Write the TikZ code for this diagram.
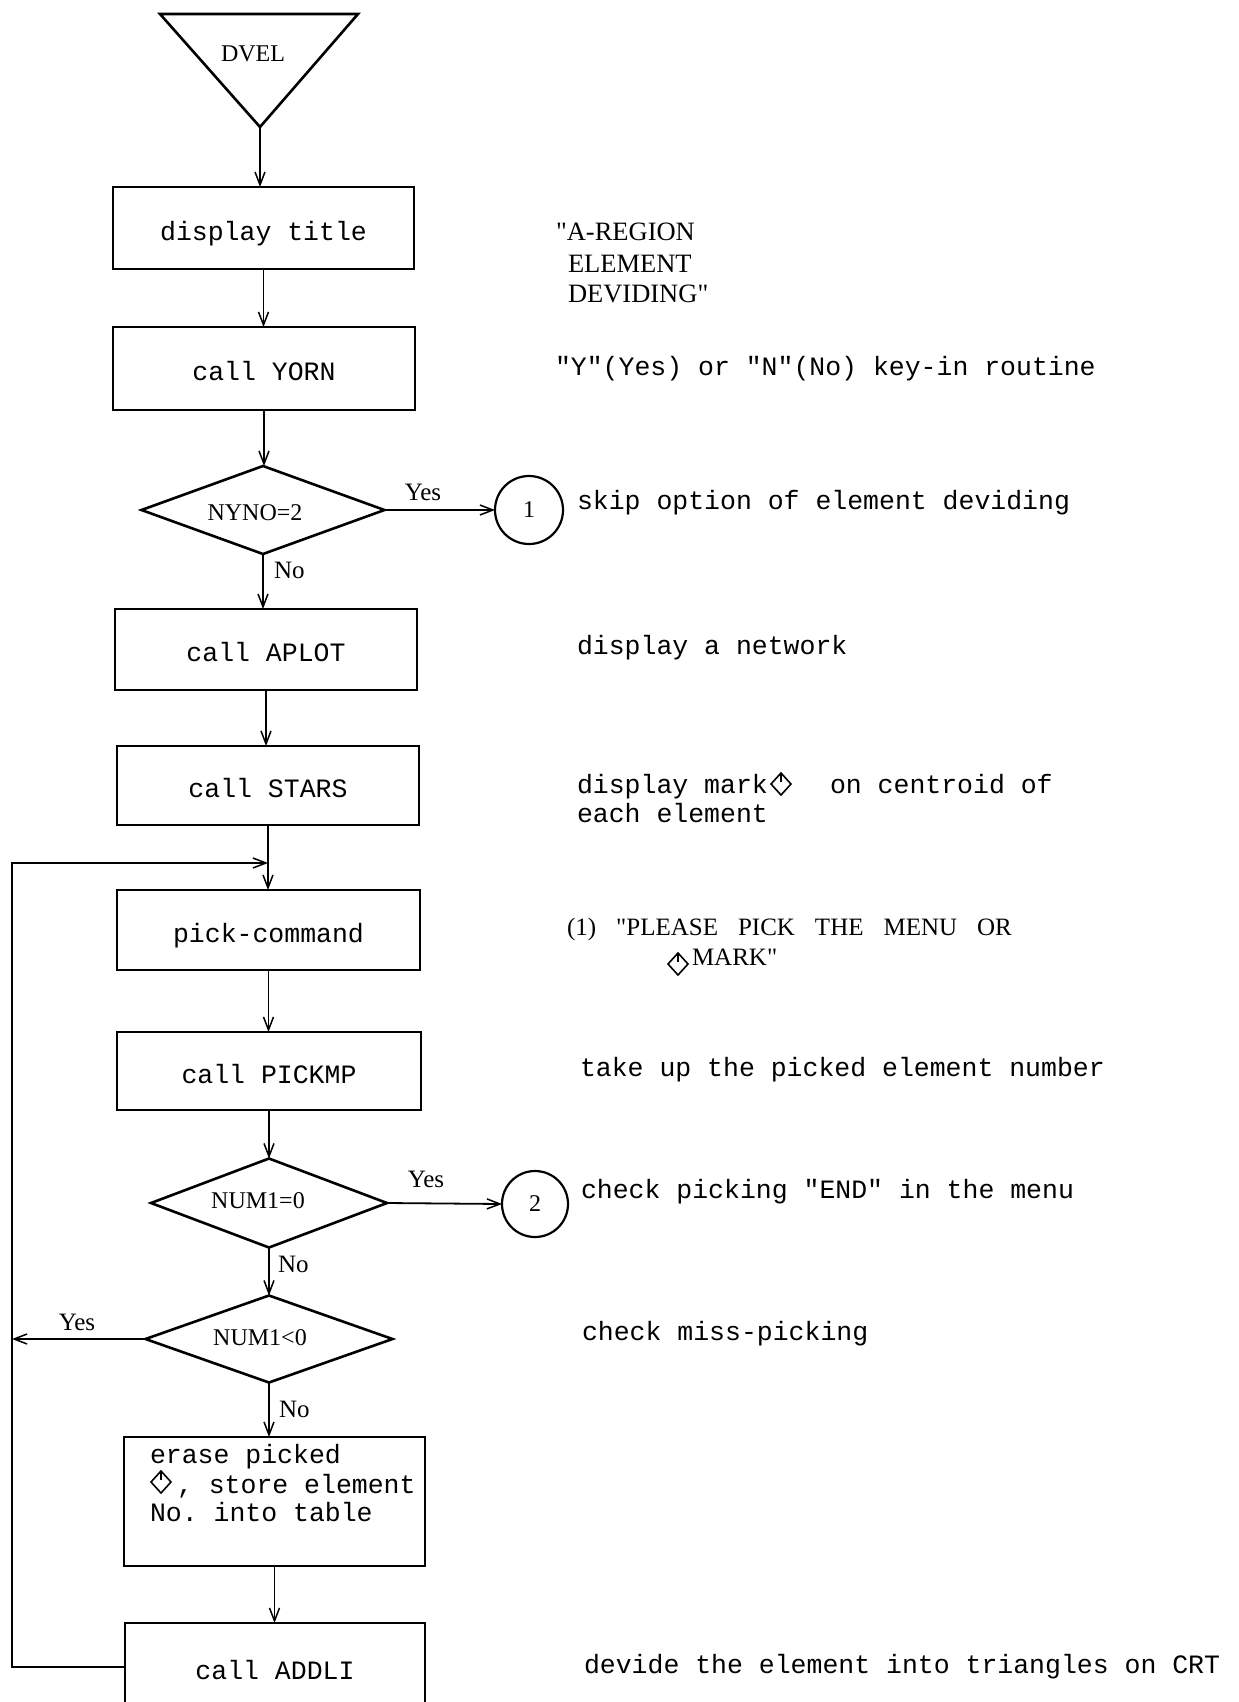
\documentclass[tikz,border=0pt]{standalone}
\usepackage{fontspec}
\setmainfont{Liberation Serif}[Ligatures=TeXOff]
\setmonofont{Liberation Mono}
\usetikzlibrary{arrows.meta,shapes.geometric}

\begin{document}
\begin{tikzpicture}[x=1pt,y=-1pt,
  every node/.style={inner sep=0pt,outer sep=0pt},
  shapeline/.style={line width=2.6pt,line join=miter},
  proc/.style={draw,shapeline,rectangle,
    font=\ttfamily\fontsize{26.5}{29}\selectfont,
    text height=24pt,text depth=0pt},
  cond/.style={draw,shapeline,diamond},
  conn/.style={line width=1.8pt,
    -{Straight Barb[length=13pt,width=10pt,line width=1.5pt]}},
  joint/.style={draw,circle,line width=2.2pt,
    font=\fontsize{24}{28}\selectfont},
  mono/.style={anchor=base west,font=\ttfamily\fontsize{26.5}{29}\selectfont},
  serif/.style={font=\fontsize{24}{29}\selectfont},
  lbl/.style={font=\fontsize{25}{29}\selectfont},
  title/.style={anchor=base west,font=\fontsize{26.5}{29}\selectfont},
  elmark/.pic={
    \draw[line width=1.6pt,line join=miter]
      (0,-11) -- (10,0) -- (0,11) -- (-10,0) -- cycle;
    \draw[line width=1.6pt] (0,-11) -- (0,-2);
  }]
\useasboundingbox (0,0) rectangle (1239,1702);
\clip (0,0) rectangle (1239,1702);

% entry symbol
\coordinate (t1) at (160,14);
\coordinate (t2) at (358,14);
\coordinate (apex) at (260,127);
\draw[shapeline] (t1) -- (t2) -- (apex) -- cycle;
\node[serif,anchor=base] (dvel) at (253,62) {DVEL};

% process boxes
\node[proc,minimum width=301,minimum height=82] (b1) at (263.5,228) {display title};
\node[proc,minimum width=302,minimum height=83] (b2) at (264,368.5) {call YORN};
\node[proc,minimum width=302,minimum height=81] (b3) at (266,649.5) {call APLOT};
\node[proc,minimum width=302,minimum height=79] (b4) at (268,785.5) {call STARS};
\node[proc,minimum width=303,minimum height=80] (b5) at (268.5,930) {pick-command};
\node[proc,minimum width=304,minimum height=78] (b6) at (269,1071) {call PICKMP};
\node[draw,shapeline,rectangle,minimum width=301,minimum height=129] (b7) at (274.5,1501.5) {};
\node[proc,minimum width=300,minimum height=88] (b8) at (275,1667) {call ADDLI};

% text of the erase box, one node per line
\node[mono] (e1) at (150,1463) {erase picked};
\pic at (161,1482) {elmark};
\node[mono] (e2) at (177,1493) {, store element};
\node[mono] (e3) at (150,1521) {No. into table};

% decisions
\node[cond,minimum width=243,minimum height=88] (d1) at (263,510) {};
\node[serif,anchor=base] (d1t) at (255,520) {NYNO=2};
\node[cond,minimum width=236,minimum height=89] (d2) at (269,1203) {};
\node[serif,anchor=base] (d2t) at (258,1208) {NUM1=0};
\node[cond,minimum width=247,minimum height=87] (d3) at (269,1339) {};
\node[serif,anchor=base] (d3t) at (260,1345) {NUM1<0};

% off-page connectors
\node[joint,minimum size=68] (c1) at (529,510) {1};
\node[joint,minimum size=66] (c2) at (535,1204) {2};

\coordinate (merge) at (268,863);
\coordinate (lt) at (12,863);

\draw[conn] (apex) -- (apex |- b1.north);
\draw[conn] (b1.south) -- (b1.south |- b2.north);
\draw[conn] (b2.south) -- (b2.south |- d1.north);
\draw[conn] (d1.east) -- (c1.west);
\draw[conn] (d1.south) -- (d1.south |- b3.north);
\draw[conn] (b3.south) -- (b3.south |- b4.north);
\draw[conn] (b4.south) -- (b4.south |- b5.north);
\draw[conn] (b5.south) -- (b5.south |- b6.north);
\draw[conn] (b6.south) -- (b6.south |- d2.north);
\draw[conn] (d2.east) -- (c2.west);
\draw[conn] (d2.south) -- (d2.south |- d3.north);
\draw[conn] (d3.west) -- (d3.west -| lt);
\draw[conn] (d3.south) -- (d3.south |- b7.north);
\draw[conn] (b7.south) -- (b7.south |- b8.north);
\draw[conn] (b8.west) -| (lt) -- (merge);

% branch labels
\node[lbl,anchor=base] (y1) at (423,500) {Yes};
\node[lbl,anchor=base west] (n1) at (274,578) {No};
\node[lbl,anchor=base] (y2) at (426,1187) {Yes};
\node[lbl,anchor=base west] (n2) at (278,1272) {No};
\node[lbl,anchor=base] (y3) at (77,1330) {Yes};
\node[lbl,anchor=base west] (n3) at (279,1417) {No};

% remarks
\node[title] (r1a) at (556,240) {"A-REGION};
\node[title] (r1b) at (568,272) {ELEMENT};
\node[title] (r1c) at (568,302) {DEVIDING"};
\node[mono] (r2) at (555,375) {"Y"(Yes) or "N"(No) key-in routine};
\node[mono] (r3) at (577,509) {skip option of element deviding};
\node[mono] (r4) at (577,654) {display a network};
\node[mono] (r5a) at (577,793) {display mark};
\pic at (781,784) {elmark};
\node[mono] (r5b) at (830,793) {on centroid of};
\node[mono] (r5c) at (577,822) {each element};
\node[lbl,anchor=base west] (r6a) at (567,935)
  {\spaceskip=20pt\relax (1) "PLEASE PICK THE MENU OR};
\pic at (678,964) {elmark};
\node[lbl,anchor=base west] (r6b) at (692,965) {MARK"};
\node[mono] (r7) at (580,1076) {take up the picked element number};
\node[mono] (r8) at (581,1198) {check picking "END" in the menu};
\node[mono] (r9) at (582,1340) {check miss-picking};
\node[mono] (r10) at (584,1673) {devide the element into triangles on CRT};
\end{tikzpicture}
\end{document}
